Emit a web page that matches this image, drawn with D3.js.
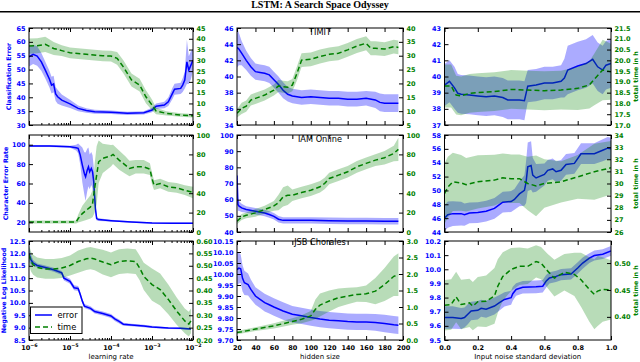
<!DOCTYPE html>
<html>
<head>
<meta charset="utf-8">
<script src="https://cdn.jsdelivr.net/npm/d3@7"></script>
<style>
  body { margin: 0; background: #fff; }
  text { font-family: "DejaVu Sans", sans-serif; }
</style>
</head>
<body>
<script>
// ---- data: [x, mean, spread] ----
// TIMIT
let timitLrErr = [
  [1e-6, 54.6, 3.5], [1.26e-6, 55.5, 3.5], [1.58e-6, 54.9, 3.5], [2.0e-6, 52.8, 3.2], [2.5e-6, 49.8, 3],
  [3.16e-6, 46.5, 3], [3.55e-6, 44.4, 3], [3.98e-6, 44.8, 3], [4.47e-6, 41.2, 2.5], [5.0e-6, 40.2, 2.5],
  [6.3e-6, 39.0, 2], [1e-5, 37.6, 1.5], [1.58e-5, 36.0, 1], [2.5e-5, 35.2, 0.8], [4.0e-5, 34.8, 0.7],
  [1e-4, 34.6, 0.6], [2.5e-4, 34.2, 0.6], [6.3e-4, 34.4, 0.6], [1e-3, 35.4, 0.8], [1.26e-3, 36.8, 1],
  [2.0e-3, 37.2, 1.2], [2.5e-3, 38.4, 1.5], [3.16e-3, 41.4, 2], [3.55e-3, 42.9, 2], [5.0e-3, 43.2, 2],
  [5.6e-3, 44.4, 2.5], [6.3e-3, 46.2, 3], [7.1e-3, 52.8, 8], [7.9e-3, 49.8, 5], [8.9e-3, 51.6, 5], [1e-2, 53.4, 4]
];
let timitLrTime = [
  [1e-6, 36.6, 3.5], [1.58e-6, 36.8, 3.5], [2.5e-6, 37.4, 3.5], [4.0e-6, 35.5, 3], [6.3e-6, 34.5, 2.5],
  [1e-5, 33.5, 2.5], [2.5e-5, 32.8, 2.5], [6.3e-5, 32.1, 2.5], [1e-4, 32.0, 2.5], [1.41e-4, 30.9, 3],
  [2.0e-4, 27.0, 3], [3.16e-4, 20.9, 3], [5.0e-4, 18.5, 3], [7.1e-4, 13.1, 3], [1e-3, 9.3, 2.5],
  [1.26e-3, 6.5, 1.5], [2.24e-3, 5.4, 1], [5.0e-3, 4.6, 0.8], [1e-2, 4.3, 0.8]
];
let timitHidErr = [
  [20, 43.6, 2.5], [22, 43.4, 2], [25, 42.9, 1.5], [30, 42.0, 1.2], [35, 41.2, 1.1], [40, 40.6, 1],
  [45, 40.5, 1], [50, 40.4, 1], [55, 40.2, 1], [60, 39.6, 1], [65, 39.0, 1], [70, 38.3, 1],
  [75, 37.8, 0.9], [80, 37.6, 0.9], [90, 37.4, 0.9], [100, 37.5, 0.9], [110, 37.4, 0.9], [120, 37.3, 0.9],
  [130, 37.3, 0.9], [140, 37.2, 0.9], [150, 37.2, 0.9], [160, 37.3, 0.9], [170, 37.1, 1],
  [175, 36.8, 1.1], [180, 36.7, 1.1], [195, 36.7, 1.1]
];
let timitHidTime = [
  [20, 9.2, 1.5], [25, 11.0, 2], [30, 11.8, 2], [35, 14.0, 2], [40, 14.6, 2], [50, 15.8, 2],
  [60, 17.6, 2], [65, 19.1, 2.2], [70, 18.8, 2.2], [75, 18.6, 2.2], [80, 19.4, 2.2], [85, 23.6, 2.5],
  [90, 28.4, 2.5], [100, 28.7, 2.5], [110, 29.7, 2.5], [120, 30.5, 2.5], [130, 30.9, 2.5], [140, 32.1, 2.5],
  [150, 33.5, 2.5], [160, 34.5, 2.5], [165, 32.7, 2.5], [170, 32.7, 2.5], [180, 32.4, 2.5],
  [190, 33.3, 2.5], [195, 33.0, 2.5]
];
let timitNoiseErr = [
  [0, 39.47, 1.3], [0.03, 39.7, 1.3], [0.06, 39.3, 1.3], [0.08, 38.96, 1.2], [0.1, 38.9, 1.2],
  [0.15, 38.86, 1.2], [0.2, 38.8, 1.2], [0.25, 38.75, 1.2], [0.3, 38.8, 1.2], [0.35, 38.7, 1.2],
  [0.38, 38.55, 1.2], [0.45, 38.55, 1.2], [0.48, 38.5, 1.2], [0.49, 38.96, 1.1], [0.5, 39.4, 1.0],
  [0.55, 39.47, 1.0], [0.6, 39.6, 1.0], [0.65, 39.6, 1.0], [0.7, 39.7, 1.0], [0.72, 39.9, 1.2],
  [0.74, 40.4, 1.5], [0.8, 40.65, 1.5], [0.85, 40.8, 1.5], [0.89, 41.06, 1.5], [0.92, 40.6, 1.5],
  [0.95, 40.4, 1.5], [0.97, 40.7, 1.5], [1.0, 40.8, 1.5]
];
let timitNoiseTime = [
  [0, 18.81, 1.0], [0.04, 18.81, 1.0], [0.07, 18.39, 0.9], [0.1, 18.35, 0.9], [0.15, 18.47, 0.9],
  [0.2, 18.5, 0.9], [0.3, 18.55, 0.9], [0.4, 18.65, 0.9], [0.5, 18.62, 0.9], [0.6, 18.59, 0.9],
  [0.7, 18.62, 0.9], [0.8, 18.7, 1.0], [0.87, 18.86, 1.1], [0.9, 19.12, 1.2], [0.95, 19.55, 1.4], [1.0, 19.47, 1.3]
];

// IAM Online
let iamLrErr = [
  [1e-6, 98.6, 1], [3.16e-6, 98.6, 1], [1e-5, 97.9, 1], [1.41e-5, 96.9, 3], [1.58e-5, 96.2, 5],
  [1.78e-5, 89.3, 10], [2.0e-5, 79, 18], [2.24e-5, 70.3, 22], [2.4e-5, 66.9, 25], [2.63e-5, 73.8, 22],
  [2.82e-5, 77.2, 20], [3.02e-5, 72, 18], [3.31e-5, 75.5, 17], [3.55e-5, 72, 17], [3.8e-5, 61.7, 15],
  [3.98e-5, 47.9, 10], [4.17e-5, 34.1, 5], [4.47e-5, 23.8, 2], [5.0e-5, 22.8, 1.5], [1e-4, 21.7, 1],
  [3.16e-4, 20.3, 0.8], [1e-3, 19.3, 0.8], [3.16e-3, 19.0, 0.8], [1e-2, 19.0, 0.8]
];
let iamLrTime = [
  [1e-6, 10.3, 1.5], [1.41e-5, 10.3, 1.5], [1.58e-5, 13.8, 4], [2.0e-5, 19, 8], [2.5e-5, 22.4, 10],
  [3.16e-5, 25.9, 12], [3.55e-5, 29.3, 14], [3.98e-5, 44.8, 25], [4.47e-5, 58.6, 30], [5.0e-5, 72.4, 22],
  [6.3e-5, 75.9, 15], [1e-4, 78.6, 11], [1.12e-4, 80, 10], [1.58e-4, 74.1, 10], [2.24e-4, 69, 9],
  [2.82e-4, 65.5, 8], [4.0e-4, 67.2, 7], [6.3e-4, 67.2, 7], [8.9e-4, 64.8, 6], [1e-3, 55.2, 6],
  [1.12e-3, 48.3, 5], [1.58e-3, 50, 5], [2.5e-3, 46.6, 5], [4.0e-3, 45.5, 5], [6.3e-3, 43.1, 5], [1e-2, 40.7, 6]
];
let iamHidErr = [
  [20, 75, 8], [21, 57, 4], [22, 56.1, 3], [25, 54.9, 2.5], [30, 53.9, 2], [40, 52.8, 2], [50, 51.8, 2],
  [55, 50.8, 2], [60, 49.7, 2], [65, 47.9, 2], [70, 47.2, 2], [80, 47.2, 2], [100, 47.2, 2],
  [120, 47.0, 2], [140, 46.8, 2], [160, 46.8, 2], [180, 46.6, 2], [195, 46.6, 2]
];
let iamHidTime = [
  [20, 11, 3], [25, 15.5, 3], [30, 17.2, 3], [40, 19.7, 4], [50, 23.1, 4], [60, 26.9, 5], [65, 30.3, 8],
  [70, 36.2, 10], [75, 37.9, 10], [80, 37.9, 6], [90, 40.7, 6], [100, 43.1, 6], [110, 46.6, 6],
  [115, 50, 6], [120, 55.2, 6], [130, 58.6, 6], [140, 62.1, 6], [150, 67.2, 6], [160, 70.7, 6],
  [170, 74.1, 6], [180, 76.6, 7], [190, 81, 8], [195, 85.2, 12]
];
let iamNoiseErr = [
  [0, 46.0, 1.9], [0.02, 46.5, 1.9], [0.05, 46.65, 1.8], [0.1, 46.65, 1.7], [0.12, 46.5, 1.6],
  [0.15, 46.75, 1.5], [0.2, 46.8, 1.5], [0.25, 47.0, 1.5], [0.3, 47.4, 1.5], [0.33, 47.95, 1.5],
  [0.35, 48.3, 1.5], [0.4, 48.4, 1.5], [0.42, 48.7, 1.5], [0.45, 49.5, 1.8], [0.48, 50.0, 2.2],
  [0.49, 51.2, 3], [0.5, 53.4, 3.5], [0.52, 53.6, 3.5], [0.53, 52.2, 2.5], [0.55, 51.8, 2],
  [0.6, 52.3, 1.6], [0.62, 52.9, 1.5], [0.65, 53.1, 1.5], [0.67, 52.7, 1.5], [0.7, 52.9, 1.5],
  [0.73, 53.75, 1.5], [0.78, 53.9, 1.5], [0.82, 55.3, 1.5], [0.9, 55.3, 1.5], [0.95, 55.8, 1.6],
  [0.98, 56.1, 1.6], [1.0, 56.0, 1.6]
];
let iamNoiseTime = [
  [0, 29.17, 2.5], [0.02, 29.7, 2.5], [0.05, 30.14, 2.4], [0.1, 30.05, 2.3], [0.13, 29.9, 2.2],
  [0.2, 30.14, 2.2], [0.3, 30.28, 2.1], [0.35, 30.47, 2.0], [0.4, 30.4, 2.0], [0.45, 30.4, 2.0],
  [0.5, 30.0, 2.2], [0.55, 29.8, 2.5], [0.6, 30.0, 2.0], [0.7, 30.14, 1.7], [0.8, 30.55, 1.8],
  [0.9, 30.97, 2.3], [1.0, 31.3, 2.2]
];

// JSB Chorales
let jsbLrErr = [
  [1e-6, 11.97, 0.3], [1.12e-6, 11.74, 0.2], [1.26e-6, 11.61, 0.12], [1.58e-6, 11.51, 0.08],
  [2.5e-6, 11.43, 0.08], [4.0e-6, 11.34, 0.08], [6.3e-6, 11.21, 0.08], [7.1e-6, 11.0, 0.1],
  [1e-5, 10.87, 0.1], [1.26e-5, 10.61, 0.1], [1.58e-5, 10.58, 0.1], [1.78e-5, 10.34, 0.1],
  [2.0e-5, 10.07, 0.1], [2.24e-5, 9.87, 0.08], [3.16e-5, 9.78, 0.08], [4.0e-5, 9.65, 0.08],
  [6.3e-5, 9.57, 0.08], [1e-4, 9.47, 0.08], [1.26e-4, 9.34, 0.08], [1.58e-4, 9.25, 0.08],
  [2.0e-4, 9.14, 0.06], [3.16e-4, 9.11, 0.05], [6.3e-4, 9.07, 0.05], [1e-3, 9.03, 0.05],
  [2.5e-3, 8.98, 0.04], [5.0e-3, 8.97, 0.04], [8.9e-3, 8.94, 0.04]
];
let jsbLrTime = [
  [1e-6, 0.544, 0.04], [1.12e-6, 0.517, 0.04], [1.26e-6, 0.504, 0.04], [1.58e-6, 0.493, 0.04],
  [2.5e-6, 0.487, 0.04], [4.0e-6, 0.487, 0.04], [6.3e-6, 0.491, 0.04], [1e-5, 0.501, 0.04],
  [1.58e-5, 0.517, 0.045], [2.5e-5, 0.528, 0.045], [3.16e-5, 0.531, 0.045], [4.0e-5, 0.527, 0.045],
  [6.3e-5, 0.515, 0.05], [1e-4, 0.504, 0.05], [1.26e-4, 0.511, 0.05], [1.58e-4, 0.517, 0.05],
  [2.5e-4, 0.52, 0.05], [4.0e-4, 0.517, 0.05], [5.0e-4, 0.491, 0.05], [6.3e-4, 0.457, 0.055],
  [1e-3, 0.424, 0.065], [1.58e-3, 0.404, 0.065], [2.5e-3, 0.364, 0.06], [4.0e-3, 0.317, 0.055],
  [6.3e-3, 0.277, 0.05], [7.9e-3, 0.264, 0.05], [8.9e-3, 0.277, 0.05]
];
let jsbHidErr = [
  [20, 10.02, 0.075], [22, 10.027, 0.07], [24, 10.024, 0.065], [26, 9.98, 0.06], [28, 9.96, 0.055],
  [32, 9.952, 0.05], [35, 9.93, 0.045], [40, 9.9, 0.04], [45, 9.885, 0.04], [50, 9.87, 0.04],
  [55, 9.86, 0.04], [60, 9.85, 0.04], [70, 9.832, 0.04], [80, 9.817, 0.038], [90, 9.81, 0.037],
  [100, 9.802, 0.037], [110, 9.795, 0.037], [120, 9.79, 0.037], [130, 9.787, 0.037], [140, 9.784, 0.037],
  [150, 9.782, 0.037], [160, 9.782, 0.037], [170, 9.78, 0.038], [180, 9.775, 0.04], [190, 9.769, 0.04],
  [195, 9.767, 0.04]
];
let jsbHidTime = [
  [20, 0.23, 0.05], [25, 0.25, 0.05], [40, 0.33, 0.06], [60, 0.43, 0.08], [80, 0.56, 0.1],
  [90, 0.63, 0.12], [100, 0.73, 0.15], [105, 0.93, 0.3], [110, 1.06, 0.35], [120, 1.18, 0.32],
  [130, 1.28, 0.28], [140, 1.33, 0.25], [150, 1.38, 0.22], [160, 1.4, 0.25], [170, 1.48, 0.4],
  [180, 1.68, 0.5], [190, 1.93, 0.6], [195, 1.98, 0.65]
];
let jsbNoiseErr = [
  [0, 9.659, 0.08], [0.05, 9.659, 0.08], [0.1, 9.652, 0.075], [0.12, 9.659, 0.07], [0.14, 9.682, 0.07],
  [0.16, 9.705, 0.065], [0.2, 9.71, 0.065], [0.22, 9.724, 0.06], [0.25, 9.717, 0.06], [0.3, 9.74, 0.06],
  [0.33, 9.764, 0.055], [0.36, 9.787, 0.05], [0.4, 9.799, 0.05], [0.41, 9.827, 0.05], [0.43, 9.857, 0.045],
  [0.47, 9.873, 0.045], [0.55, 9.876, 0.045], [0.59, 9.88, 0.045], [0.61, 9.915, 0.045], [0.63, 9.939, 0.04],
  [0.67, 9.95, 0.04], [0.7, 9.962, 0.04], [0.76, 9.967, 0.04], [0.8, 10.009, 0.04], [0.83, 10.044, 0.04],
  [0.87, 10.079, 0.035], [0.9, 10.097, 0.035], [0.95, 10.107, 0.035], [1.0, 10.13, 0.035]
];
let jsbNoiseTime = [
  [0, 0.4215, 0.047], [0.04, 0.423, 0.047], [0.07, 0.437, 0.047], [0.1, 0.423, 0.046], [0.15, 0.426, 0.045],
  [0.17, 0.42, 0.045], [0.2, 0.428, 0.046], [0.25, 0.429, 0.048], [0.3, 0.439, 0.052], [0.32, 0.457, 0.05],
  [0.35, 0.475, 0.045], [0.4, 0.488, 0.04], [0.45, 0.494, 0.035], [0.5, 0.494, 0.033], [0.55, 0.503, 0.03],
  [0.58, 0.5, 0.03], [0.62, 0.485, 0.032], [0.66, 0.472, 0.034], [0.72, 0.483, 0.034], [0.78, 0.479, 0.04],
  [0.82, 0.469, 0.05], [0.87, 0.451, 0.06], [0.9, 0.442, 0.065], [0.92, 0.448, 0.065], [0.95, 0.451, 0.06],
  [1.0, 0.45, 0.055]
];

// labels and ticks
let datasets = ["TIMIT", "IAM Online", "JSB Chorales"];
let yLabels = ["Classification Error", "Character Error Rate", "Negative Log Likelihood"];
let xLabels = ["learning rate", "hidden size", "Input noise standard deviation"];
let timeLabel = "total time in h";
let xDomains = [[1e-6, 1e-2], [20, 200], [0, 1]];
let xTicks = [[1e-6, 1e-5, 1e-4, 1e-3, 1e-2], [20, 40, 60, 80, 100, 120, 140, 160, 180, 200], [0, 0.2, 0.4, 0.6, 0.8, 1.0]];

let panels = [
  { err: timitLrErr, time: timitLrTime, errDomain: [30, 65], errTicks: [30, 35, 40, 45, 50, 55, 60, 65], errFmt: "d",
    timeDomain: [0, 45], timeTicks: [0, 5, 10, 15, 20, 25, 30, 35, 40, 45], timeFmt: "d" },
  { err: timitHidErr, time: timitHidTime, errDomain: [34, 46], errTicks: [34, 36, 38, 40, 42, 44, 46], errFmt: "d",
    timeDomain: [5, 40], timeTicks: [5, 10, 15, 20, 25, 30, 35, 40], timeFmt: "d" },
  { err: timitNoiseErr, time: timitNoiseTime, errDomain: [37, 43], errTicks: [37, 38, 39, 40, 41, 42, 43], errFmt: "d",
    timeDomain: [17, 21.5], timeTicks: [17, 17.5, 18, 18.5, 19, 19.5, 20, 20.5, 21, 21.5], timeFmt: ".1f" },
  { err: iamLrErr, time: iamLrTime, errDomain: [10, 110], errTicks: [20, 40, 60, 80, 100], errFmt: "d",
    timeDomain: [0, 100], timeTicks: [0, 20, 40, 60, 80, 100], timeFmt: "d" },
  { err: iamHidErr, time: iamHidTime, errDomain: [40, 100], errTicks: [40, 50, 60, 70, 80, 90, 100], errFmt: "d",
    timeDomain: [0, 100], timeTicks: [0, 20, 40, 60, 80, 100], timeFmt: "d" },
  { err: iamNoiseErr, time: iamNoiseTime, errDomain: [44, 58], errTicks: [44, 46, 48, 50, 52, 54, 56, 58], errFmt: "d",
    timeDomain: [26, 34], timeTicks: [26, 27, 28, 29, 30, 31, 32, 33, 34], timeFmt: "d" },
  { err: jsbLrErr, time: jsbLrTime, errDomain: [8.5, 12.5], errTicks: [8.5, 9, 9.5, 10, 10.5, 11, 11.5, 12, 12.5], errFmt: ".1f",
    timeDomain: [0.2, 0.6], timeTicks: [0.2, 0.25, 0.3, 0.35, 0.4, 0.45, 0.5, 0.55, 0.6], timeFmt: ".2f" },
  { err: jsbHidErr, time: jsbHidTime, errDomain: [9.7, 10.15], errTicks: [9.7, 9.75, 9.8, 9.85, 9.9, 9.95, 10, 10.05, 10.1, 10.15], errFmt: ".2f",
    timeDomain: [0, 3], timeTicks: [0, 0.5, 1, 1.5, 2, 2.5, 3], timeFmt: ".1f" },
  { err: jsbNoiseErr, time: jsbNoiseTime, errDomain: [9.5, 10.2], errTicks: [9.5, 9.6, 9.7, 9.8, 9.9, 10, 10.1, 10.2], errFmt: ".1f",
    timeDomain: [0.357, 0.541], timeTicks: [0.4, 0.45, 0.5], timeFmt: ".2f" }
];

// ---- layout ----
let width = 640, height = 362;
let colX = [[29, 193], [237, 403], [444.5, 611]];
let rowY = [[28, 125], [135, 232], [241, 340]];
let yLabelX = [9, 5.5, 3.5];
let blue = "#0000ff", green = "#008000";
let tickFont = "bold 6.5px 'DejaVu Sans'";

let svg = d3.select("body").append("svg").attr("width", width).attr("height", height);

// title and rule
svg.append("text").attr("x", 320).attr("y", 8.3).attr("text-anchor", "middle")
  .style("font", "bold 10px 'Liberation Serif'").text("LSTM: A Search Space Odyssey");
svg.append("line").attr("x1", 0).attr("x2", width).attr("y1", 11.75).attr("y2", 11.75)
  .attr("stroke", "#000").attr("stroke-width", 1.5);

function styleAxis(g, color) {
  g.select(".domain").remove();
  g.attr("color", "#000");
  g.selectAll("text").attr("fill", color).style("font", tickFont);
}

let titles = svg.append("g");

panels.forEach(function(p, i) {
  let col = i % 3, row = Math.floor(i / 3);
  let x0 = colX[col][0], x1 = colX[col][1], y0 = rowY[row][0], y1 = rowY[row][1];

  let xScale = (col === 0 ? d3.scaleLog() : d3.scaleLinear()).domain(xDomains[col]).range([x0, x1]);
  let yErr = d3.scaleLinear().domain(p.errDomain).range([y1, y0]);
  let yTime = d3.scaleLinear().domain(p.timeDomain).range([y1, y0]);

  svg.append("clipPath").attr("id", "clip" + i).append("rect")
    .attr("x", x0).attr("y", y0).attr("width", x1 - x0).attr("height", y1 - y0);
  let plot = svg.append("g").attr("clip-path", "url(#clip" + i + ")");

  let errArea = d3.area().x(d => xScale(d[0])).y0(d => yErr(d[1] - d[2])).y1(d => yErr(d[1] + d[2]));
  let errLine = d3.line().x(d => xScale(d[0])).y(d => yErr(d[1]));
  let timeArea = d3.area().x(d => xScale(d[0])).y0(d => yTime(d[1] - d[2])).y1(d => yTime(d[1] + d[2]));
  let timeLine = d3.line().x(d => xScale(d[0])).y(d => yTime(d[1]));

  plot.append("path").attr("d", errArea(p.err)).attr("fill", blue).attr("fill-opacity", 0.33);
  plot.append("path").attr("d", errLine(p.err)).attr("fill", "none").attr("stroke", blue).attr("stroke-width", 1.5);
  plot.append("path").attr("d", timeArea(p.time)).attr("fill", green).attr("fill-opacity", 0.28);
  plot.append("path").attr("d", timeLine(p.time)).attr("fill", "none").attr("stroke", green)
    .attr("stroke-width", 1.5).attr("stroke-dasharray", "5,3");

  // frame
  svg.append("rect").attr("x", x0).attr("y", y0).attr("width", x1 - x0).attr("height", y1 - y0)
    .attr("fill", "none").attr("stroke", "#000").attr("stroke-width", 1);

  // left / right axes
  let gl = svg.append("g").attr("transform", "translate(" + x0 + ",0)")
    .call(d3.axisLeft(yErr).tickValues(p.errTicks).tickFormat(d3.format(p.errFmt))
      .tickSizeInner(-4).tickSizeOuter(0).tickPadding(3.5));
  styleAxis(gl, blue);
  let gr = svg.append("g").attr("transform", "translate(" + x1 + ",0)")
    .call(d3.axisRight(yTime).tickValues(p.timeTicks).tickFormat(d3.format(p.timeFmt))
      .tickSizeInner(-4).tickSizeOuter(0).tickPadding(3.5));
  styleAxis(gr, green);

  // top / bottom axes
  let bottom = d3.axisBottom(xScale).tickValues(xTicks[col]).tickSizeInner(-4).tickSizeOuter(0).tickPadding(5);
  if (row < 2) bottom.tickFormat("");
  else if (col === 0) bottom.tickFormat(d => "10");
  else if (col === 2) bottom.tickFormat(d3.format(".1f"));
  let gb = svg.append("g").attr("transform", "translate(0," + y1 + ")").call(bottom);
  styleAxis(gb, "#000");
  let gt = svg.append("g").attr("transform", "translate(0," + y0 + ")")
    .call(d3.axisTop(xScale).tickValues(xTicks[col]).tickFormat("").tickSizeInner(-4).tickSizeOuter(0));
  styleAxis(gt, "#000");

  if (col === 0) {
    // superscript exponents
    if (row === 2) {
      gb.selectAll(".tick text").each(function(d) {
        d3.select(this).append("tspan").attr("dy", -2.5).style("font-size", "4.8px")
          .text("\u2212" + Math.round(-Math.log10(d)));
      });
    }
    let minor = xScale.ticks().filter(v => xTicks[0].indexOf(v) < 0);
    [[y1, d3.axisBottom], [y0, d3.axisTop]].forEach(function(a) {
      let gm = svg.append("g").attr("transform", "translate(0," + a[0] + ")")
        .call(a[1](xScale).tickValues(minor).tickFormat("").tickSizeInner(-2).tickSizeOuter(0));
      styleAxis(gm, "#000");
    });
  }

  // labels
  if (col === 0) {
    svg.append("text").attr("transform", "translate(" + yLabelX[row] + "," + (y0 + y1) / 2 + ") rotate(-90)")
      .attr("dy", "0.35em").attr("text-anchor", "middle").attr("fill", blue)
      .style("font", "bold 6.3px 'DejaVu Sans'").text(yLabels[row]);
  }
  if (col === 2) {
    svg.append("text").attr("transform", "translate(636," + (y0 + y1) / 2 + ") rotate(-90)")
      .attr("dy", "0.35em").attr("text-anchor", "middle").attr("fill", green)
      .style("font", "bold 6.3px 'DejaVu Sans'").text(timeLabel);
  }
  if (col === 1) {
    titles.append("text").attr("x", (x0 + x1) / 2).attr("y", y0 + (row === 2 ? 3.5 : 7.3))
      .attr("text-anchor", "middle").style("font", "8.2px 'DejaVu Sans'").text(datasets[row]);
  }
  if (row === 2) {
    svg.append("text").attr("x", (x0 + x1) / 2).attr("y", 359).attr("text-anchor", "middle")
      .style("font", "7px 'DejaVu Sans'").text(xLabels[col]);
  }

  // legend in the bottom-left panel
  if (i === 6) {
    let lg = svg.append("g");
    lg.append("rect").attr("x", 30.5).attr("y", 307).attr("width", 51.5).attr("height", 26.5)
      .attr("fill", "#fff").attr("stroke", "#000").attr("stroke-width", 1);
    [["error", blue, null], ["time", green, "5,3"]].forEach(function(e, k) {
      let ly = 315 + k * 12;
      lg.append("line").attr("x1", 35).attr("x2", 52).attr("y1", ly).attr("y2", ly)
        .attr("stroke", e[1]).attr("stroke-width", 1.5).attr("stroke-dasharray", e[2]);
      lg.append("text").attr("x", 57.5).attr("y", ly + 3).style("font", "8.3px 'DejaVu Sans'").text(e[0]);
    });
  }
});

// dataset titles on top of everything
titles.raise();
</script>
</body>
</html>
